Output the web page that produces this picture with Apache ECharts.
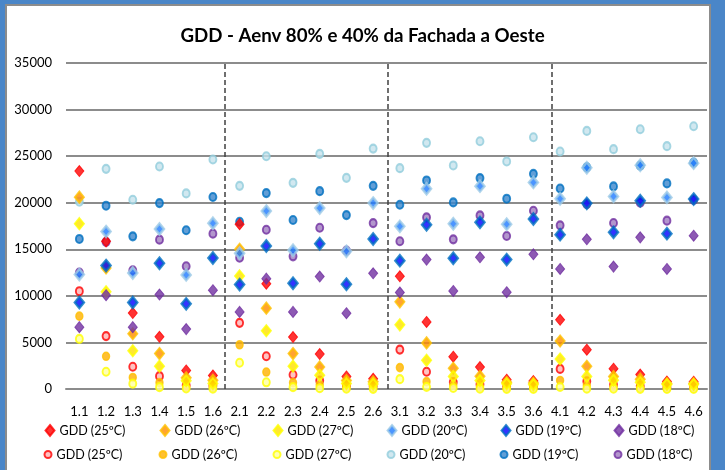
<!DOCTYPE html>
<html>
<head>
<meta charset="utf-8">
<script src="https://cdn.jsdelivr.net/npm/echarts@6/dist/echarts.min.js"></script>
<style>
html,body{margin:0;padding:0;background:#4A86C8;}
#chart{width:725px;height:470px;}
</style>
</head>
<body>
<div id="chart"></div>
<script>
// ---- data ----
const titleText = 'GDD - Aenv 80% e 40% da Fachada a Oeste';
const categories = ['1.1','1.2','1.3','1.4','1.5','1.6','2.1','2.2','2.3','2.4','2.5','2.6',
                    '3.1','3.2','3.3','3.4','3.5','3.6','4.1','4.2','4.3','4.4','4.5','4.6'];
const yTicks = [0, 5000, 10000, 15000, 20000, 25000, 30000, 35000];
const legendLabels = ['GDD (25ºC)','GDD (26ºC)','GDD (27ºC)','GDD (20ºC)','GDD (19ºC)','GDD (18ºC)'];
const dividerPositions = [5.45, 11.56, 17.68];

// diamond series
const diamond25 = [23400,15850,8150,5600,1990,1450, 17700,11300,5580,3750,1350,1100, 12100,7200,3470,2350,1000,850, 7430,4220,2180,1550,800,780];
const diamond26 = [20600,13000,5930,3800,1200,930, 15000,8680,3800,2370,910,780, 9360,4950,2230,1370,720,650, 5150,2430,1330,1060,590,590];
const diamond27 = [17750,10430,4100,2450,880,590, 12140,6250,2450,1470,600,540, 6890,3080,1350,900,570,470, 3220,1350,950,720,480,480];
const diamond20 = [12300,16900,12460,17180,12250,17790, 14570,19100,14890,19420,14780,19960, 17460,21500,17750,21780,17680,22180, 20430,23750,20680,24030,20570,24250];
const diamond19 = [9290,13250,9290,13500,9140,14070, 11210,15350,11350,15600,11250,16100, 13780,17640,14030,17890,13890,18250, 16570,19930,16820,20210,16680,20390];
const diamond18 = [6640,10070,6640,10140,6430,10610, 8280,11850,8280,12070,8140,12420, 10360,13890,10530,14140,10390,14460, 12890,16070,13140,16280,12890,16460];

// circle series
const circle25 = [10500,5680,2390,1380,400,350, 7100,3520,1530,900,330,300, 4230,1850,740,500,250,230, 2160,820,480,320,200,200];
const circle26 = [7820,3510,1240,680,220,200, 4750,1820,680,460,180,150, 2300,790,420,250,120,100, 920,400,230,150,80,80];
const circle27 = [5380,1850,570,200,50,40, 2820,720,200,90,30,20, 1060,230,110,40,10,10, 215,40,30,20,5,5];
const circle20 = [20100,23640,20320,23890,21000,24640, 21810,24990,22130,25240,22670,25810, 23710,26430,24000,26600,24430,27030, 25500,27710,25750,27890,26070,28210];
const circle19 = [16110,19680,16390,19960,17040,20610, 17960,21030,18140,21240,18670,21810, 19780,22390,20030,22640,20430,23100, 21530,23800,21750,23980,22070,24300];
const circle18 = [12500,15800,12750,16030,13180,16680, 14100,17100,14240,17310,14850,17810, 15860,18430,16070,18640,16430,19140, 17570,19850,17820,20000,18070,20300];

// ---- styles ----
const FONT = "Lato, 'Liberation Sans', sans-serif";
const diamondData = [diamond25, diamond26, diamond27, diamond20, diamond19, diamond18];
const circleData = [circle25, circle26, circle27, circle20, circle19, circle18];
const diamondStyle = [
  {color:'#FF0000', borderColor:'#FF0000', borderWidth:1},
  {color:'#FF8C00', borderColor:'#FFC000', borderWidth:2},
  {color:'#FFE000', borderColor:'#FFFF00', borderWidth:2},
  {color:'#1E7BFF', borderColor:'#9DCAE6', borderWidth:2.5},
  {color:'#0000FF', borderColor:'#0070C0', borderWidth:2.5},
  {color:'#7030A0', borderColor:'#7030A0', borderWidth:1}
];
const circleStyle = [
  {color:'#FFB3B3', borderColor:'#FF0000', borderWidth:2},
  {color:'#FFB000', borderColor:'#FFC000', borderWidth:1.5},
  {color:'#FFFFA0', borderColor:'#FFFF00', borderWidth:2},
  {color:'#C6E2EC', borderColor:'#92CDDC', borderWidth:2},
  {color:'#3A86CC', borderColor:'#0070C0', borderWidth:2},
  {color:'#A07CC0', borderColor:'#7030A0', borderWidth:2}
];
const legendRow1X = [49, 164, 277, 391, 505, 618];
const legendRow2X = [47, 162, 276, 390, 503, 617];

const series = [];
const legends = [];
// circles first (drawn below)
circleData.forEach((d, i) => {
  const name = legendLabels[i] + ' ';
  series.push({
    name, type:'scatter', data:d, symbol:'circle', symbolSize:[7,8],
    itemStyle: circleStyle[i], z: 2
  });
  legends.push({
    data:[name], left: legendRow2X[i] - 3.5, top: 448, padding:0, itemGap:0,
    itemWidth:7, itemHeight:8, selectedMode:false,
    formatter: n => n.trim(),
    textStyle:{fontFamily:FONT, fontSize:12.5, color:'#000'}
  });
});
diamondData.forEach((d, i) => {
  const name = legendLabels[i];
  series.push({
    name, type:'scatter', data:d, symbol:'diamond', symbolSize:[9,11],
    itemStyle: diamondStyle[i], z: 3
  });
  legends.push({
    data:[name], left: legendRow1X[i] - 4.5, top: 424, padding:0, itemGap:0,
    itemWidth:9, itemHeight:11, selectedMode:false,
    textStyle:{fontFamily:FONT, fontSize:12.5, color:'#000'}
  });
});
// dashed dividers
series.push({
  type:'scatter', xAxisIndex:1, data:[], silent:true,
  markLine:{
    silent:true, symbol:'none', label:{show:false},
    lineStyle:{type:[5,3], color:'#404040', width:1.5},
    data: dividerPositions.map(v => ({xAxis:v}))
  }
});

const chart = echarts.init(document.getElementById('chart'), null, {renderer:'canvas'});
chart.setOption({
  backgroundColor:'#4A86C8',
  animation:false,
  graphic:[{
    type:'rect', silent:true, z:-10,
    shape:{x:6, y:5, width:704, height:480},
    style:{fill:'#ffffff', stroke:'#8C8C8C', lineWidth:2}
  }],
  title:{
    text:titleText, left:'center', top:21,
    textStyle:{fontFamily:FONT, fontWeight:'bold', fontSize:18.7, color:'#000'}
  },
  legend: legends,
  grid:{left:66, right:18, top:63, bottom:81, containLabel:false},
  xAxis:[{
    type:'category', data:categories, boundaryGap:true,
    axisLine:{lineStyle:{color:'#8C8C8C', width:2}},
    axisTick:{show:false},
    axisLabel:{fontFamily:FONT, fontSize:13, color:'#000', margin:16, interval:0},
    splitLine:{show:false}
  },{
    type:'value', min:-0.5, max:23.5, show:false
  }],
  yAxis:{
    type:'value', min:yTicks[0], max:yTicks[yTicks.length-1], interval:yTicks[1]-yTicks[0],
    axisLine:{show:false}, axisTick:{show:false},
    axisLabel:{fontFamily:FONT, fontSize:13, color:'#000', margin:14, formatter: v => String(v)},
    splitLine:{lineStyle:{color:'#8C8C8C', width:2}}
  },
  series
});
</script>
</body>
</html>
